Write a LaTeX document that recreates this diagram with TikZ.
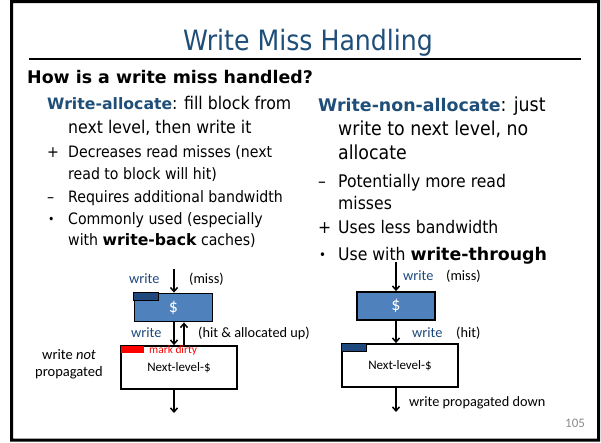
\documentclass[tikz,border=0pt]{standalone}
\usepackage{fontspec}
\setmainfont{DejaVu Sans Condensed}
\newfontfamily\boldwide{DejaVu Sans}
\newfontfamily\diagfont{Carlito}
\usetikzlibrary{arrows.meta,calc}
\definecolor{titleblue}{HTML}{1F4E79}
\definecolor{cacheblue}{HTML}{4F81BD}
\definecolor{darkblue}{HTML}{1F497D}
\definecolor{pagegray}{HTML}{8C8C8C}
\newcommand{\keyterm}[1]{{\boldwide\bfseries #1}}
\begin{document}
\begin{tikzpicture}[x=1pt,y=-1pt,
  txt/.style={anchor=base west, inner sep=0pt},
  colL/.style={txt, font=\fontsize{15.7}{18}\selectfont},
  leadL/.style={txt, font=\fontsize{17.5}{20}\selectfont},
  colR/.style={txt, font=\fontsize{17.4}{20}\selectfont},
  leadR/.style={txt, font=\fontsize{19.3}{22}\selectfont},
  lab/.style={txt, font=\diagfont\fontsize{14.3}{17}\selectfont},
  bluelab/.style={lab, text=darkblue},
  cachebox/.style={draw=black, line width=1.8pt, fill=cacheblue, inner sep=0pt,
    minimum width=78pt, minimum height=28pt, text=white,
    font=\diagfont\fontsize{18}{20}\selectfont},
  nextbox/.style={draw=black, line width=1.8pt, fill=white, inner sep=0pt,
    minimum width=116pt, minimum height=43pt,
    font=\diagfont\fontsize{13}{15}\selectfont},
  tag/.style={draw=black, line width=1.1pt, fill=darkblue},
  arr/.style={draw=black, line width=1.5pt, -{Straight Barb[length=4pt,width=7pt]}}]
\fill[white] (0,0) rectangle (601,442);
\useasboundingbox (0,0) rectangle (601,442);
% slide frame (a filled ring) and title rule
\fill[black, even odd rule] (10,0) rectangle (600,441.5) (13,3) rectangle (597,438.5);
\fill[black] (29,58.3) rectangle (581,59.8);
\node[anchor=base, inner sep=0pt, text=titleblue, font=\fontsize{28}{32}\selectfont]
  (title) at (308,50) {Write Miss Handling};
\node[txt, font=\boldwide\bfseries\fontsize{17.4}{20}\selectfont] (q) at (27,83) {How is a write miss handled?};

% left column: write-allocate
\node[leadL] (la1) at (47,109) {\textcolor{titleblue}{\keyterm{\fontsize{15.7}{18}\selectfont Write-allocate}}: fill block from};
\node[leadL] (la2) at (68,133) {next level, then write it};
\node[colL] (lb1) at (47,157) {+};
\node[colL] (la3) at (68,157) {Decreases read misses (next};
\node[colL] (la4) at (68,179) {read to block will hit)};
\node[colL] (lb2) at (47,202) {\textendash};
\node[colL] (la5) at (68,202) {Requires additional bandwidth};
\node[colL, font=\fontsize{12}{14}\selectfont] (lb3) at (48,223) {\textbullet};
\node[colL] (la6) at (68,224) {Commonly used (especially};
\node[colL] (la7) at (68,245) {with \keyterm{write-back} caches)};

% right column: write-non-allocate
\node[leadR] (ra1) at (318,111) {\textcolor{titleblue}{\keyterm{\fontsize{17.4}{20}\selectfont Write-non-allocate}}: just};
\node[leadR] (ra2) at (338,135) {write to next level, no};
\node[leadR] (ra3) at (338,159) {allocate};
\node[colR] (rb1) at (318,187) {\textendash};
\node[colR] (ra4) at (338,187) {Potentially more read};
\node[colR] (ra5) at (338,209) {misses};
\node[colR] (rb2) at (318,233) {+};
\node[colR] (ra6) at (338,233) {Uses less bandwidth};
\node[colR, font=\fontsize{13}{15}\selectfont] (rb3) at (319,259) {\textbullet};
\node[colR] (ra7) at (338,260) {Use with \keyterm{write-through}};

% left diagram: write-allocate
\node[cachebox] (c1) at (173.5,307.5) {\$};
\draw[tag] (c1.north west) rectangle ++(25,8);
\node[nextbox] (n1) at (179,367.5) {Next-level-\$};
\fill[red] ($(n1.north west)+(1,1)$) rectangle ++(23,6.5);
\node[txt, text=red, font=\diagfont\fontsize{11.4}{13}\selectfont] (dirty) at (149,353.5) {mark dirty};
\coordinate (t1) at (174,269);
\coordinate (u1) at (184,0);
\coordinate (b1) at (174,413);
\draw[arr] (t1) -- (t1 |- c1.north);
\draw[arr] (t1 |- c1.south) -- (t1 |- n1.north);
\draw[arr] (u1 |- n1.north) -- (u1 |- c1.south);
\draw[arr] (b1 |- n1.south) -- (b1);
\node[bluelab] (w1) at (129,283.5) {write};
\node[lab] (m1) at (189,283.5) {(miss)};
\node[bluelab] (w2) at (131,337.5) {write};
\node[lab] (h1) at (198,337.5) {(hit \& allocated up)};
\node[align=center, inner sep=0pt, font=\diagfont\fontsize{14.5}{17}\selectfont] (np) at (69,364.5)
  {write \textit{not}\\propagated};

% right diagram: write-non-allocate
\node[cachebox] (c2) at (396,306) {\$};
\node[nextbox] (n2) at (400,365.5) {Next-level-\$};
\draw[tag] (n2.north west) rectangle ++(25,8);
\coordinate (t2) at (396,262);
\coordinate (b2) at (396,412);
\draw[arr] (t2) -- (t2 |- c2.north);
\draw[arr] (t2 |- c2.south) -- (t2 |- n2.north);
\draw[arr] (b2 |- n2.south) -- (b2);
\node[bluelab] (w3) at (403,280.5) {write};
\node[lab] (m2) at (446,280.5) {(miss)};
\node[bluelab] (w4) at (412,337.5) {write};
\node[lab] (h2) at (456,337.5) {(hit)};
\node[lab] (wpd) at (409,406.5) {write propagated down};
\node[txt, text=pagegray, font=\diagfont\fontsize{13}{15}\selectfont] (pg) at (565,427) {105};
\end{tikzpicture}
\end{document}
